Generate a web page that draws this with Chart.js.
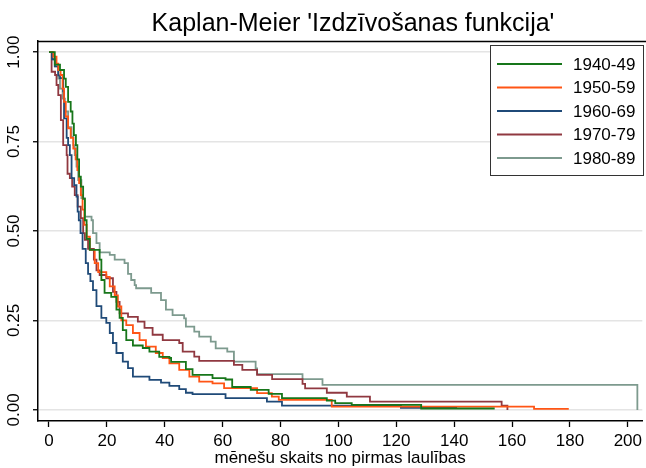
<!DOCTYPE html>
<html>
<head>
<meta charset="utf-8">
<script src="https://cdn.jsdelivr.net/npm/chart.js@4"></script>
<style>
  html, body { margin: 0; padding: 0; background: #fff; }
  #wrap { width: 646px; height: 468px; }
</style>
</head>
<body>
<div id="wrap"><canvas id="km"></canvas></div>
<script>
// cohort labels and colours
const cohorts = ['1940-49', '1950-59', '1960-69', '1970-79', '1980-89'];
const colors = ['#17761a', '#ff5515', '#1f4a78', '#903840', '#7d9a8e'];

// step points: month where the curve drops, and survival after the drop
const t40 = [0, 2, 3.8, 5.2, 5.8, 6.6, 7.5, 8.1, 8.6, 9.3, 9.8, 10.4, 11, 11.8, 12.4, 13, 14.1, 17.5, 18.1, 19.2, 21.5, 23.3, 24.4, 25.5, 26.7, 29, 32.4, 34.7, 38.1, 41.6, 42.2, 47.3, 49.6, 56.5, 61, 63.3, 69.7, 75.9, 80.5, 96, 98.9, 104.6, 128.6, 154];
const s40 = [1, 0.965, 0.95, 0.926, 0.903, 0.861, 0.834, 0.80, 0.768, 0.74, 0.70, 0.652, 0.624, 0.59, 0.53, 0.478, 0.447, 0.42, 0.363, 0.327, 0.316, 0.28, 0.257, 0.223, 0.195, 0.18, 0.173, 0.163, 0.148, 0.145, 0.134, 0.114, 0.098, 0.089, 0.085, 0.064, 0.056, 0.045, 0.033, 0.026, 0.019, 0.014, 0.004, 0.004];

const t50 = [0, 1.5, 2.6, 3.2, 4, 4.7, 5.2, 5.8, 6.6, 7.5, 8.4, 9.2, 9.8, 10.4, 11, 11.6, 12.2, 13, 14.1, 15.8, 17, 19.8, 21, 22.7, 23.8, 25, 26.7, 29, 31.3, 33.5, 36.9, 39.3, 41.6, 45, 48.5, 51.9, 56.5, 60.5, 71.9, 77, 79.4, 97.7, 167.6, 179.6];
const s50 = [1, 0.987, 0.968, 0.95, 0.936, 0.898, 0.861, 0.82, 0.787, 0.76, 0.73, 0.70, 0.67, 0.634, 0.60, 0.56, 0.517, 0.484, 0.447, 0.41, 0.385, 0.372, 0.345, 0.32, 0.289, 0.25, 0.237, 0.215, 0.195, 0.177, 0.159, 0.145, 0.13, 0.112, 0.093, 0.079, 0.074, 0.061, 0.047, 0.037, 0.028, 0.009, 0.003, 0.003];

const t60 = [0, 1, 2, 3.2, 3.8, 4.9, 5.2, 6.1, 6.6, 7.2, 7.8, 8.7, 9.5, 9.9, 10.3, 10.9, 11.6, 12.7, 13.5, 14.3, 15.2, 16.4, 18.1, 19.8, 21, 22.1, 23.3, 25.5, 27.3, 29, 34.7, 38.7, 41.6, 45, 47.3, 49.6, 61, 75.3, 80.5, 121.6, 141];
const s60 = [1, 0.98, 0.96, 0.935, 0.927, 0.89, 0.815, 0.76, 0.74, 0.712, 0.648, 0.628, 0.596, 0.554, 0.53, 0.494, 0.45, 0.41, 0.38, 0.36, 0.335, 0.29, 0.257, 0.243, 0.215, 0.187, 0.159, 0.135, 0.117, 0.093, 0.084, 0.076, 0.067, 0.058, 0.048, 0.044, 0.033, 0.023, 0.012, 0.006, 0.006];

const t70 = [0, 0.9, 2.1, 2.6, 3.2, 4.1, 4.9, 6.1, 6.4, 7.2, 8, 8.9, 9.9, 11, 11.8, 12.4, 13.5, 15.5, 16.4, 17.5, 19.8, 22.1, 23.3, 24.4, 27.3, 30.7, 33, 35.8, 39.3, 45, 46.2, 50.2, 51.9, 63.9, 66.8, 71.9, 77.1, 87.6, 88.5, 96, 102.9, 110.9, 156.4, 158.4];
const s70 = [1, 0.945, 0.936, 0.908, 0.88, 0.81, 0.74, 0.712, 0.66, 0.648, 0.624, 0.6, 0.568, 0.536, 0.494, 0.475, 0.45, 0.42, 0.39, 0.377, 0.368, 0.33, 0.302, 0.27, 0.26, 0.247, 0.229, 0.21, 0.195, 0.187, 0.163, 0.149, 0.137, 0.126, 0.112, 0.098, 0.086, 0.073, 0.06, 0.048, 0.037, 0.023, 0.012, 0];

const t80 = [0, 1.1, 2.1, 3.2, 3.8, 4.7, 5.5, 6.6, 7.8, 8.4, 8.9, 9.5, 10.1, 11.2, 12.4, 14.7, 15.2, 16.4, 17.5, 21, 22.7, 26.1, 27.3, 28.4, 29.6, 30.1, 35.3, 38.7, 40.4, 42.7, 46.7, 47.3, 50.2, 51.9, 55.9, 57.6, 61.6, 63.9, 71.4, 71.9, 87.6, 94.5, 203.3];
const s80 = [1, 0.98, 0.96, 0.926, 0.898, 0.87, 0.834, 0.79, 0.763, 0.74, 0.712, 0.68, 0.642, 0.592, 0.54, 0.53, 0.494, 0.466, 0.44, 0.433, 0.42, 0.41, 0.38, 0.363, 0.349, 0.34, 0.327, 0.307, 0.28, 0.265, 0.256, 0.233, 0.219, 0.205, 0.191, 0.172, 0.163, 0.135, 0.116, 0.1, 0.086, 0.07, 0];

// axis ticks
const xTicks = [0, 20, 40, 60, 80, 100, 120, 140, 160, 180, 200];
const yTicks = [0, 0.25, 0.5, 0.75, 1];

const times = [t40, t50, t60, t70, t80];
const survs = [s40, s50, s60, s70, s80];

const FONT = "'Liberation Sans', Arial, sans-serif";

const datasets = cohorts.map((name, i) => ({
  label: name,
  data: times[i].map((t, j) => ({ x: t, y: survs[i][j] })),
  borderColor: colors[i],
  borderWidth: 1.8,
  stepped: 'before',
  pointRadius: 0,
  fill: false,
}));

// title, frame line on top and the boxed legend inside the plot
const decor = {
  id: 'decor',
  afterDraw(chart) {
    const ctx = chart.ctx;
    const a = chart.chartArea;
    ctx.save();
    ctx.strokeStyle = '#000';
    ctx.lineWidth = 1.5;
    ctx.beginPath();
    ctx.moveTo(a.left, a.top + 0.5);
    ctx.lineTo(chart.width, a.top + 0.5);
    ctx.stroke();

    ctx.fillStyle = '#000';
    ctx.font = '25px ' + FONT;
    ctx.textAlign = 'center';
    ctx.textBaseline = 'alphabetic';
    ctx.fillText("Kaplan-Meier 'Izdzīvošanas funkcija'", 353, 31);

    // legend box
    const bx = 490.5, by = 45.5, bw = 153, bh = 130;
    ctx.fillStyle = '#fff';
    ctx.fillRect(bx, by, bw, bh);
    ctx.strokeStyle = '#333';
    ctx.lineWidth = 1;
    ctx.strokeRect(bx, by, bw, bh);
    ctx.font = '17px ' + FONT;
    ctx.textAlign = 'left';
    ctx.textBaseline = 'middle';
    chart.data.datasets.forEach((ds, i) => {
      const y = 64 + i * 23.5;
      ctx.strokeStyle = ds.borderColor;
      ctx.lineWidth = 2;
      ctx.beginPath();
      ctx.moveTo(497, y);
      ctx.lineTo(562, y);
      ctx.stroke();
      ctx.fillStyle = '#000';
      ctx.fillText(ds.label, 573, y + 1);
    });
    ctx.restore();
  }
};

new Chart(document.getElementById('km'), {
  type: 'line',
  data: { datasets },
  plugins: [decor],
  options: {
    responsive: true,
    maintainAspectRatio: false,
    animation: false,
    layout: { padding: { top: 41, right: 0, left: 0, bottom: 0 } },
    plugins: {
      legend: { display: false },
      title: { display: false },
      tooltip: { enabled: false },
    },
    scales: {
      x: {
        type: 'linear',
        min: -3.8,
        max: 205,
        afterBuildTicks: s => { s.ticks = xTicks.map(v => ({ value: v })); },
        afterFit: s => { s.height = 47; },
        grid: { drawOnChartArea: false, tickColor: '#000', tickLength: 6, tickWidth: 1.3 },
        border: { display: true, color: '#000', width: 1.5 },
        ticks: { color: '#000', font: { family: FONT, size: 17 }, padding: 4, maxRotation: 0 },
        title: {
          display: true,
          text: 'mēnešu skaits no pirmas laulības',
          color: '#000',
          font: { family: FONT, size: 17, lineHeight: 1 },
          padding: { top: 0, bottom: 1 },
        },
      },
      y: {
        min: -0.031,
        max: 1.031,
        afterBuildTicks: s => { s.ticks = yTicks.map(v => ({ value: v })); },
        afterFit: s => { s.width = 38; },
        grid: { color: '#e4e4e4', lineWidth: 1.5, tickColor: '#000', tickLength: 5, tickWidth: 1.3 },
        border: { display: true, color: '#000', width: 1.5 },
        ticks: {
          color: '#000',
          font: { family: FONT, size: 17 },
          minRotation: 90,
          maxRotation: 90,
          crossAlign: 'center',
          padding: 2,
          callback: v => v.toFixed(2),
        },
      },
    },
  },
});
</script>
</body>
</html>
